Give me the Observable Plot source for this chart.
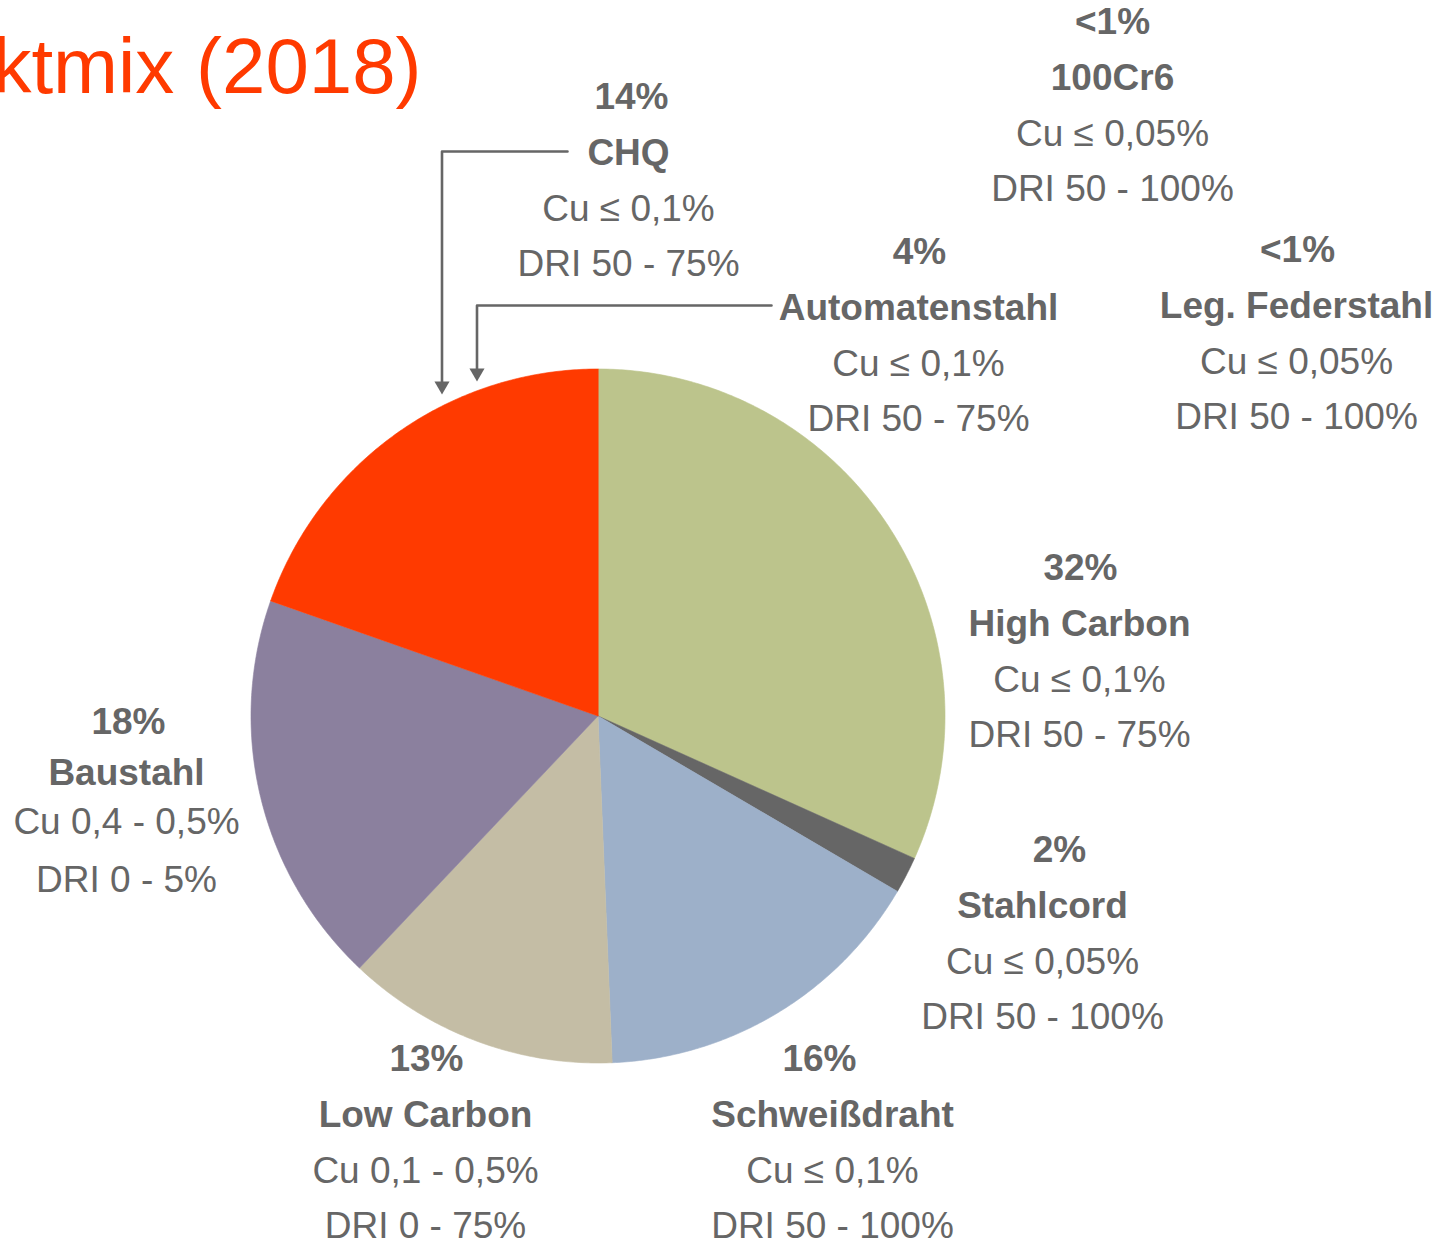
<!DOCTYPE html>
<html><head><meta charset="utf-8">
<script src="https://cdn.jsdelivr.net/npm/d3@7"></script>
<script src="https://cdn.jsdelivr.net/npm/@observablehq/plot@0.6"></script>
<style>html,body{margin:0;padding:0;background:#fff;overflow:hidden}#chart svg{display:block}</style>
</head><body><div id="chart"></div>
<script>
// ---- data ----
const categories = ["High Carbon","Stahlcord","Schweißdraht","Low Carbon","Baustahl","CHQ","Automatenstahl","100Cr6","Leg. Federstahl"];
const shares = [31.7, 1.7, 15.9, 12.7, 18.3, 14.6, 4.4, 0.3, 0.3];
const shareLabels = ["32%","2%","16%","13%","18%","14%","4%","<1%","<1%"];
const cuLabels = ["Cu ≤ 0,1%","Cu ≤ 0,05%","Cu ≤ 0,1%","Cu 0,1 - 0,5%","Cu 0,4 - 0,5%","Cu ≤ 0,1%","Cu ≤ 0,1%","Cu ≤ 0,05%","Cu ≤ 0,05%"];
const driLabels = ["DRI 50 - 75%","DRI 50 - 100%","DRI 50 - 100%","DRI 0 - 75%","DRI 0 - 5%","DRI 50 - 75%","DRI 50 - 75%","DRI 50 - 100%","DRI 50 - 100%"];
const sliceColors = ["#BCC48C","#666666","#9DB0C9","#C4BDA5","#8B809E","#FF3A00","#FF3A00","#FF3A00","#FF3A00"];
const titleText = "ktmix (2018)";

// ---- layout (pixels) ----
const W = 1449, H = 1242;
const pie = {cx: 597.5, cy: 715.5, r: 347};
const labelX = [1079, 1042, 832, 425, 126, 628, 918, 1112, 1296];
const shareX = [1080, 1059, 819, 426, 128, 631, 919, 1112, 1297];
const labelY = [568, 850, 1059, 1059, 722, 97, 252, 22, 250];
const lineStep = [0, 55.8, 112, 167];
const lineStepBau = [0, 51, 100, 158];
const textColor = "#666666";
const fontFamily = "'Liberation Sans', Arial, sans-serif";
const fontSize = 37;
const arrows = [
  {path: [[567,151],[441.5,151],[441.5,385]], tip: [441.5,394]},
  {path: [[771,305],[476.5,305],[476.5,372]], tip: [476.5,381]}
];

// ---- build pie geometry from shares ----
const rows = categories.map((c,i) => ({name: c, value: shares[i], color: sliceColors[i]}));
const arcs = d3.pie().sort(null).value(d => d.value).startAngle(0).endAngle(2*Math.PI)(rows);
// merge neighbouring slices that share one colour (drawn as one area, no seams)
const groups = [];
arcs.forEach(a => {
  const last = groups[groups.length - 1];
  if (last && last.color === a.data.color) last.end = a.endAngle;
  else groups.push({color: a.data.color, start: a.startAngle, end: a.endAngle});
});
const slicePolys = groups.map(g => {
  const n = Math.max(2, Math.ceil((g.end - g.start) / (Math.PI/360)));
  const pts = [{x: pie.cx, y: pie.cy}];
  for (let k = 0; k <= n; k++) {
    const t = g.start + (g.end - g.start) * k / n;
    pts.push({x: pie.cx + pie.r*Math.sin(t), y: pie.cy - pie.r*Math.cos(t)});
  }
  return {color: g.color, pts};
});

// ---- label rows ----
const boldRows = [], regRows = [];
categories.forEach((c,i) => {
  const steps = c === "Baustahl" ? lineStepBau : lineStep;
  boldRows.push({x: shareX[i], y: labelY[i] + steps[0], t: shareLabels[i]});
  boldRows.push({x: labelX[i], y: labelY[i] + steps[1], t: c});
  regRows.push({x: labelX[i], y: labelY[i] + steps[2], t: cuLabels[i]});
  regRows.push({x: labelX[i], y: labelY[i] + steps[3], t: driLabels[i]});
});

const marks = [];
slicePolys.forEach(s => marks.push(Plot.line(s.pts, {x: "x", y: "y", fill: s.color, stroke: s.color, strokeWidth: 0.6, curve: "linear-closed"})));
arrows.forEach(a => {
  marks.push(Plot.line(a.path.map(([x,y]) => ({x,y})), {x: "x", y: "y", stroke: textColor, strokeWidth: 2.6}));
});
marks.push(Plot.dot(arrows.map(a => ({x: a.tip[0], y: a.tip[1] - 8.6})), {x: "x", y: "y", symbol: "triangle", rotate: 180, r: 5.6, fill: textColor, stroke: "none"}));
marks.push(Plot.text(boldRows, {x: "x", y: "y", text: "t", fontSize, fontFamily, fontWeight: "bold", fill: textColor, textAnchor: "middle", lineAnchor: "middle"}));
marks.push(Plot.text(regRows, {x: "x", y: "y", text: "t", fontSize, fontFamily, fill: textColor, textAnchor: "middle", lineAnchor: "middle"}));
marks.push(Plot.text([{x: 421, y: 68, t: titleText}], {x: "x", y: "y", text: "t", fontSize: 78, fontFamily, fill: "#FF3A00", textAnchor: "end", lineAnchor: "middle"}));

const chart = Plot.plot({
  width: W, height: H,
  margin: 0,
  x: {domain: [0, W], range: [0, W], axis: null},
  y: {domain: [0, H], range: [0, H], axis: null},
  style: {background: "#fff"},
  marks
});
document.getElementById("chart").appendChild(chart);
</script>
</body></html>
